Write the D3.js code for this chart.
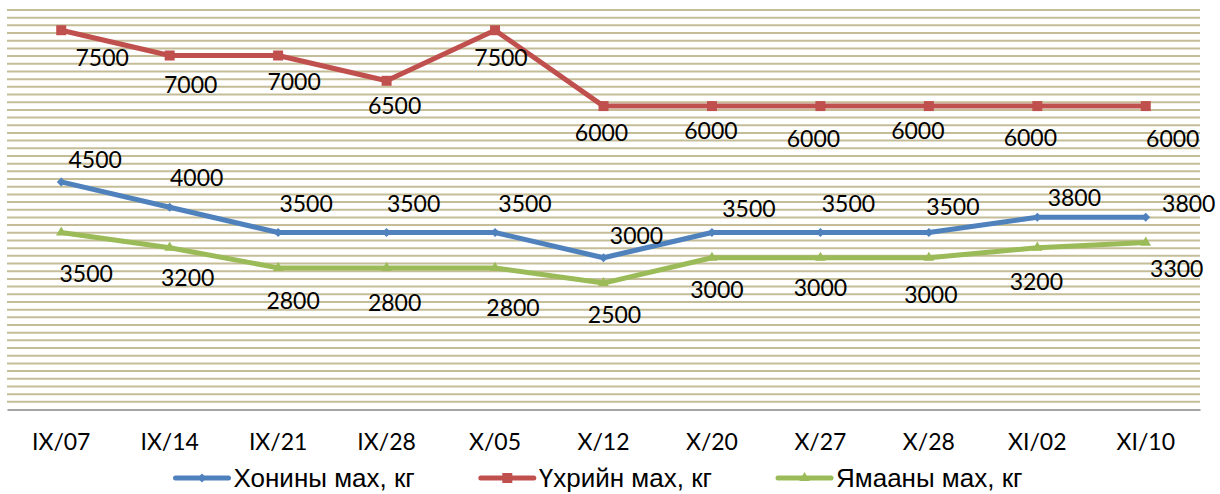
<!DOCTYPE html>
<html>
<head>
<meta charset="utf-8">
<script src="https://cdn.jsdelivr.net/npm/d3@7"></script>
<style>
  body { margin: 0; background: #fff; }
  svg { display: block; }
</style>
</head>
<body>
<svg width="1220" height="494"></svg>
<script>
// weekly meat prices (tugrik per kg)
const categories = ["IX/07", "IX/14", "IX/21", "IX/28", "X/05", "X/12", "X/20", "X/27", "X/28", "XI/02", "XI/10"];
const seriesNames = ["Хонины мах, кг", "Үхрийн мах, кг", "Ямааны мах, кг"];
const sheepValues = [4500, 4000, 3500, 3500, 3500, 3000, 3500, 3500, 3500, 3800, 3800];
const beefValues = [7500, 7000, 7000, 6500, 7500, 6000, 6000, 6000, 6000, 6000, 6000];
const goatValues = [3500, 3200, 2800, 2800, 2800, 2500, 3000, 3000, 3000, 3200, 3300];
const colors = ["#4F81BD", "#C0504D", "#9BBB59"];

// the labels were dragged around by hand in the original, so keep the nudges here
const sheepLabelShift = [[34, -23], [27, -30], [28, -30], [27, -30], [30, -30], [33, -23], [37, -25], [28, -30], [24, -27], [37, -20], [43, -14]];
const beefLabelShift = [[41, 27], [21, 28], [16, 25], [8, 24], [6, 27], [-2, 26], [-1, 24], [-7, 32], [-11, 24], [-7, 31], [27, 32]];
const goatLabelShift = [[25, 40], [18, 29], [15, 32], [8, 34], [18, 39], [11, 31], [5, 31], [0, 29], [2, 36], [-1, 33], [31, 25]];

const yMax = 7900;
const gridCount = 52;

const svg = d3.select("svg");

const x = d3.scaleBand()
    .domain(categories)
    .range([7, 1200]);

const y = d3.scaleLinear()
    .domain([0, yMax])
    .range([409.5, 10]);

// lots of thin tan gridlines
svg.append("g").selectAll("line")
    .data(d3.range(1, gridCount + 1).map(i => i * yMax / gridCount))
    .enter()
    .append("line")
        .attr("x1", 7)
        .attr("x2", 1200)
        .attr("y1", d => y(d))
        .attr("y2", d => y(d))
        .attr("stroke", "#C4BD97")
        .attr("stroke-width", 2);

// bottom axis, no ticks
const xAxis = svg.append("g")
    .attr("transform", `translate(0,${y(0)})`)
    .call(d3.axisBottom(x).tickSize(0).tickPadding(24));
xAxis.select(".domain").attr("stroke", "#868686").attr("stroke-width", 1.5);
xAxis.selectAll("text")
    .attr("font-family", "Lato, 'Open Sans', sans-serif")
    .attr("font-size", "23px")
    .attr("fill", "#000");

const series = [
  { name: seriesNames[0], values: sheepValues, shift: sheepLabelShift, color: colors[0], shape: "diamond" },
  { name: seriesNames[1], values: beefValues, shift: beefLabelShift, color: colors[1], shape: "square" },
  { name: seriesNames[2], values: goatValues, shift: goatLabelShift, color: colors[2], shape: "triangle" }
];

function markerPath(shape) {
  if (shape === "square") return d3.symbol(d3.symbolSquare, 100)();
  if (shape === "triangle") return d3.symbol(d3.symbolTriangle, 48)();
  return "M0,-4.5L4.5,0L0,4.5L-4.5,0Z"; // excel style diamond
}

const px = i => x(categories[i]) + x.bandwidth() / 2;

const line = d3.line()
    .x((d, i) => px(i))
    .y(d => y(d));

series.forEach(s => {
  const g = svg.append("g");

  g.append("path")
      .datum(s.values)
      .attr("d", line)
      .attr("fill", "none")
      .attr("stroke", s.color)
      .attr("stroke-width", 5)
      .attr("stroke-linejoin", "round");

  g.selectAll("path.marker")
      .data(s.values)
      .enter()
      .append("path")
        .attr("class", "marker")
        .attr("d", markerPath(s.shape))
        .attr("transform", (d, i) => `translate(${px(i)},${y(d)})`)
        .attr("fill", s.color);

  // value labels
  g.selectAll("text")
      .data(s.values)
      .enter()
      .append("text")
        .attr("x", (d, i) => px(i) + s.shift[i][0])
        .attr("y", (d, i) => y(d) + s.shift[i][1])
        .attr("text-anchor", "middle")
        .attr("dominant-baseline", "central")
        .attr("font-family", "Lato, 'Open Sans', sans-serif")
        .attr("font-size", "23px")
        .attr("fill", "#000")
        .text(d => d);
});

// legend at the bottom, laid out left to right then centered
const legend = svg.append("g");
let cursor = 0;
series.forEach(s => {
  const item = legend.append("g").attr("transform", `translate(${cursor},0)`);
  item.append("line")
      .attr("x1", 0).attr("x2", 53)
      .attr("y1", 0).attr("y2", 0)
      .attr("stroke", s.color)
      .attr("stroke-width", 5)
      .attr("stroke-linecap", "round");
  item.append("path")
      .attr("d", markerPath(s.shape))
      .attr("transform", "translate(26.5,0)")
      .attr("fill", s.color);
  const t = item.append("text")
      .attr("x", 58)
      .attr("y", 0)
      .attr("dominant-baseline", "central")
      .attr("font-family", "'Liberation Sans', Arial, sans-serif")
      .attr("font-size", "26px")
      .attr("fill", "#000")
      .text(s.name);
  cursor += 58 + t.node().getComputedTextLength() + 66;
});
const legendWidth = cursor - 66;
legend.attr("transform", `translate(${599 - legendWidth / 2},478)`);
</script>
</body>
</html>
